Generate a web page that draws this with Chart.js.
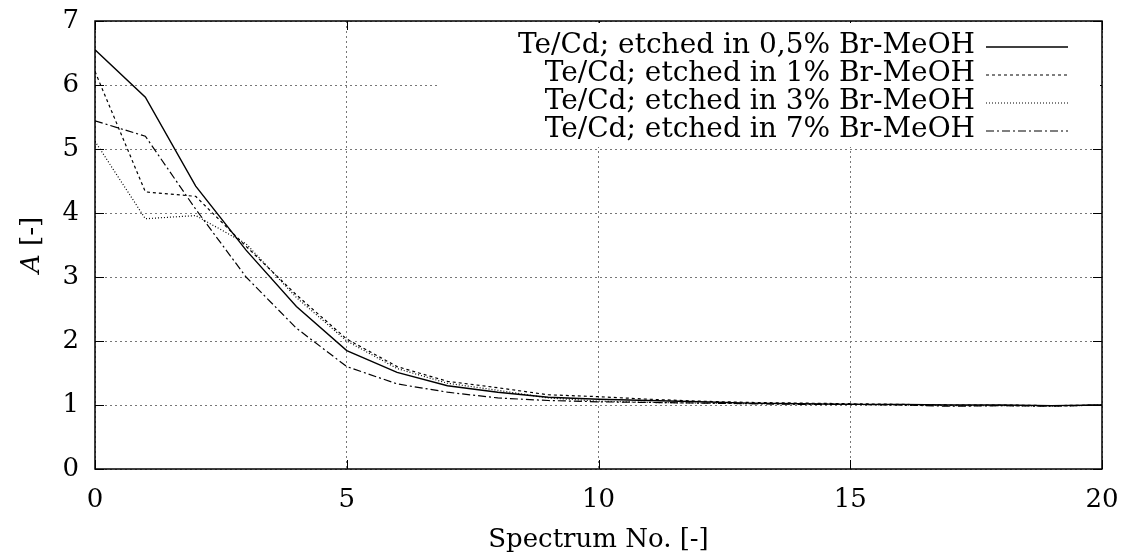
<!DOCTYPE html>
<html>
<head>
<meta charset="utf-8">
<script src="https://cdn.jsdelivr.net/npm/chart.js@4"></script>
<style>
  html, body { margin: 0; padding: 0; background: #fff; }
  #wrap { width: 1126px; height: 560px; }
</style>
</head>
<body>
<div id="wrap"><canvas id="etchChart" width="1126" height="560"></canvas></div>
<script>
// ── Data ──
const spectrumNo = [0,1,2,3,4,5,6,7,8,9,10,11,12,13,14,15,16,17,18,19,20];
const etch05 = [6.55,5.81,4.42,3.42,2.54,1.85,1.51,1.30,1.20,1.12,1.09,1.07,1.05,1.03,1.02,1.01,1.01,1.00,1.00,0.99,1.00];
const etch1  = [6.21,4.33,4.26,3.48,2.72,2.03,1.60,1.37,1.27,1.16,1.13,1.09,1.06,1.04,1.03,1.02,1.01,1.00,1.00,0.99,1.00];
const etch3  = [5.12,3.91,3.96,3.52,2.68,2.00,1.57,1.34,1.23,1.11,1.06,1.04,1.03,1.02,1.02,1.01,1.00,0.99,0.99,0.98,1.00];
const etch7  = [5.44,5.20,4.06,3.00,2.20,1.60,1.33,1.20,1.11,1.07,1.05,1.04,1.03,1.02,1.01,1.01,1.00,0.98,0.99,0.98,1.00];
const seriesNames = [
  'Te/Cd; etched in 0,5% Br-MeOH',
  'Te/Cd; etched in 1% Br-MeOH',
  'Te/Cd; etched in 3% Br-MeOH',
  'Te/Cd; etched in 7% Br-MeOH'
];
const xTicks = [0,5,10,15,20];
const yTicks = [0,1,2,3,4,5,6,7];

const SERIF = '"DejaVu Serif", "Liberation Serif", serif';
const toPts = arr => arr.map((v, i) => ({ x: spectrumNo[i], y: v }));

const dashes = [[], [3,3], [1,2], [8,3,2,3]];
const widths = [1.4, 1.2, 1.2, 1.2];

// ── gnuplot-like frame, inner ticks, legend, y title ──
const framePlugin = {
  id: 'frame',
  afterDraw(chart) {
    const { ctx, chartArea: a, scales: { x, y } } = chart;
    ctx.save();
    ctx.strokeStyle = '#000';
    ctx.lineWidth = 1.5;
    ctx.setLineDash([]);
    ctx.strokeRect(a.left, a.top, a.right - a.left, a.bottom - a.top);
    ctx.lineWidth = 1;
    ctx.beginPath();
    yTicks.forEach(v => {
      const py = Math.round(y.getPixelForValue(v)) + 0.5;
      ctx.moveTo(a.left, py); ctx.lineTo(a.left + 9, py);
      ctx.moveTo(a.right, py); ctx.lineTo(a.right - 9, py);
    });
    xTicks.forEach(v => {
      const px = Math.round(x.getPixelForValue(v)) + 0.5;
      ctx.moveTo(px, a.bottom); ctx.lineTo(px, a.bottom - 9);
      ctx.moveTo(px, a.top); ctx.lineTo(px, a.top + 9);
    });
    ctx.stroke();

    // legend box (white, hides the grid behind it)
    ctx.fillStyle = '#fff';
    ctx.fillRect(440, a.top + 2, a.right - 442, 124);
    ctx.font = '28px ' + SERIF;
    ctx.textAlign = 'right';
    ctx.textBaseline = 'middle';
    ctx.fillStyle = '#000';
    seriesNames.forEach((name, i) => {
      const ly = 46 + i * 28;
      ctx.fillText(name, 975, ly);
      const ds = chart.data.datasets[i];
      ctx.beginPath();
      ctx.setLineDash(ds.borderDash);
      ctx.lineWidth = ds.borderWidth;
      ctx.strokeStyle = ds.borderColor;
      ctx.moveTo(986, ly + 1); ctx.lineTo(1068, ly + 1);
      ctx.stroke();
    });
    ctx.setLineDash([]);

    // y axis title: italic A + [-]
    ctx.translate(32, (a.top + a.bottom) / 2);
    ctx.rotate(-Math.PI / 2);
    ctx.textBaseline = 'middle';
    ctx.textAlign = 'left';
    ctx.font = 'italic 26px ' + SERIF;
    const wA = ctx.measureText('A').width;
    ctx.font = '26px ' + SERIF;
    const wR = ctx.measureText(' [-]').width;
    const start = -(wA + wR) / 2;
    ctx.font = 'italic 26px ' + SERIF;
    ctx.fillText('A', start, 0);
    ctx.font = '26px ' + SERIF;
    ctx.fillText(' [-]', start + wA, 0);
    ctx.restore();
  }
};

new Chart(document.getElementById('etchChart').getContext('2d'), {
  type: 'line',
  data: {
    datasets: seriesNames.map((name, i) => ({
      label: name,
      data: toPts([etch05, etch1, etch3, etch7][i]),
      borderColor: '#000',
      borderWidth: widths[i],
      borderDash: dashes[i],
      pointRadius: 0,
      tension: 0,
      fill: false
    }))
  },
  options: {
    responsive: false,
    animation: false,
    layout: { padding: { top: 21, right: 24, left: 0, bottom: 0 } },
    plugins: { legend: { display: false }, tooltip: { enabled: false } },
    scales: {
      x: {
        type: 'linear', min: 0, max: 20,
        afterBuildTicks: s => { s.ticks = xTicks.map(v => ({ value: v })); },
        afterFit: s => { s.height = 91; s.paddingLeft = 0; s.paddingRight = 0; },
        border: { display: false, dash: [2, 3] },
        grid: { color: '#777', lineWidth: 1, drawTicks: false },
        ticks: { color: '#000', font: { family: SERIF, size: 26 }, padding: 16, maxRotation: 0 },
        title: { display: true, text: 'Spectrum No. [-]', color: '#000', font: { family: SERIF, size: 26 }, padding: { top: 20 } }
      },
      y: {
        min: 0, max: 7,
        afterBuildTicks: s => { s.ticks = yTicks.map(v => ({ value: v })); },
        afterFit: s => { s.width = 95; s.paddingTop = 0; s.paddingBottom = 0; },
        border: { display: false, dash: [2, 3] },
        grid: { color: '#777', lineWidth: 1, drawTicks: false },
        ticks: { color: '#000', font: { family: SERIF, size: 26 }, padding: 16 }
      }
    }
  },
  plugins: [framePlugin]
});
</script>
</body>
</html>
